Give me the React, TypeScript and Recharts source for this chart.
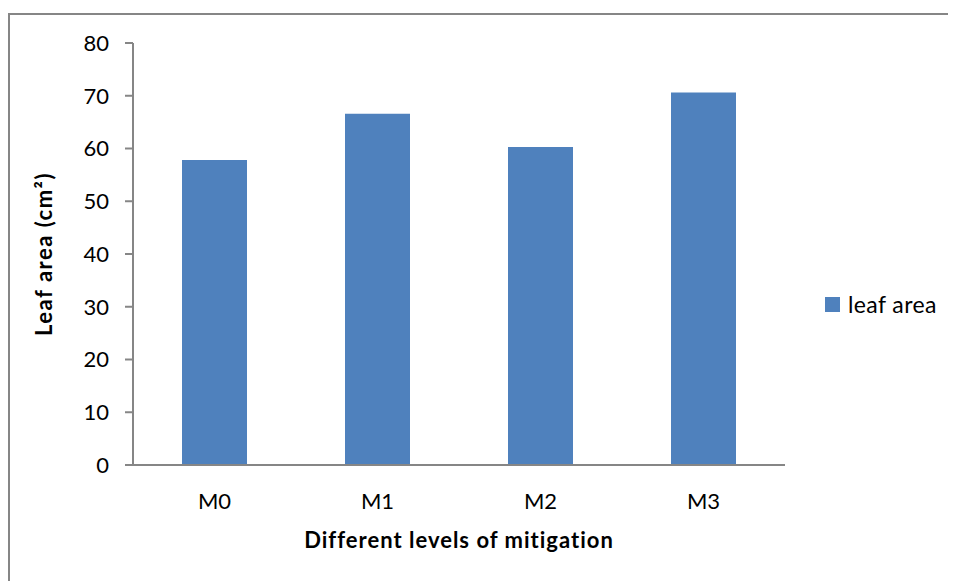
import React from "react";
import { BarChart, Bar, XAxis, YAxis, Legend } from "recharts";

const categories = ["M0", "M1", "M2", "M3"];
const leafArea = [57.8, 66.6, 60.3, 70.6];
const yTicks = [0, 10, 20, 30, 40, 50, 60, 70, 80];

const data = categories.map((c, i) => ({ name: c, leaf: leafArea[i] }));

const FONT = "Lato, 'Open Sans', sans-serif";
const AXIS = "#868686";
const BAR = "#4F81BD";

const LegendContent = () => (
  <div style={{ position: "relative", height: 0 }}>
    <div
      style={{
        position: "absolute",
        left: 0,
        top: 0,
        display: "flex",
        alignItems: "center",
        fontFamily: FONT,
        fontSize: 23,
        letterSpacing: 0.4,
        color: "#000",
        whiteSpace: "nowrap",
      }}
    >
      <span style={{ display: "inline-block", width: 15, height: 15, background: BAR, marginRight: 8 }} />
      <span>leaf area</span>
    </div>
  </div>
);

export default function App() {
  return (
    <div style={{ position: "relative", width: 948, height: 573, overflow: "hidden" }}>
      <div
        style={{
          position: "absolute",
          left: 0,
          top: 5,
          width: 948,
          height: 568,
          borderTop: `2px solid ${AXIS}`,
          borderLeft: `2px solid ${AXIS}`,
          boxSizing: "border-box",
        }}
      />
      <BarChart
        width={948}
        height={573}
        data={data}
        margin={{ top: 35, right: 171, left: 0, bottom: 0 }}
        barCategoryGap="30%"
        style={{ position: "absolute", left: 0, top: 0 }}
      >
        <XAxis
          dataKey="name"
          height={116}
          axisLine={{ stroke: AXIS, strokeWidth: 2 }}
          tickLine={false}
          tickMargin={22}
          tick={{ fill: "#000", fontSize: 22, fontFamily: FONT }}
          label={{
            value: "Different levels of mitigation",
            position: "insideBottom",
            offset: 33,
            fill: "#000",
            fontSize: 22,
            fontWeight: "bold",
            fontFamily: FONT,
            letterSpacing: 1,
          }}
        />
        <YAxis
          width={125}
          domain={[0, 80]}
          ticks={yTicks}
          axisLine={{ stroke: AXIS, strokeWidth: 2 }}
          tickLine={{ stroke: AXIS, strokeWidth: 2 }}
          tickSize={8}
          tickMargin={16}
          tick={{ fill: "#000", fontSize: 22, fontFamily: FONT }}
          label={{
            value: "Leaf area (cm²)",
            angle: -90,
            position: "insideLeft",
            offset: 36,
            style: { textAnchor: "middle" },
            fill: "#000",
            fontSize: 22,
            fontWeight: "bold",
            fontFamily: FONT,
            letterSpacing: 1.5,
          }}
        />
        <Legend
          content={<LegendContent />}
          wrapperStyle={{ position: "absolute", left: 817, top: 282, width: 130, height: 0 }}
        />
        <Bar dataKey="leaf" name="leaf area" fill={BAR} barSize={65} isAnimationActive={false} />
      </BarChart>
    </div>
  );
}
